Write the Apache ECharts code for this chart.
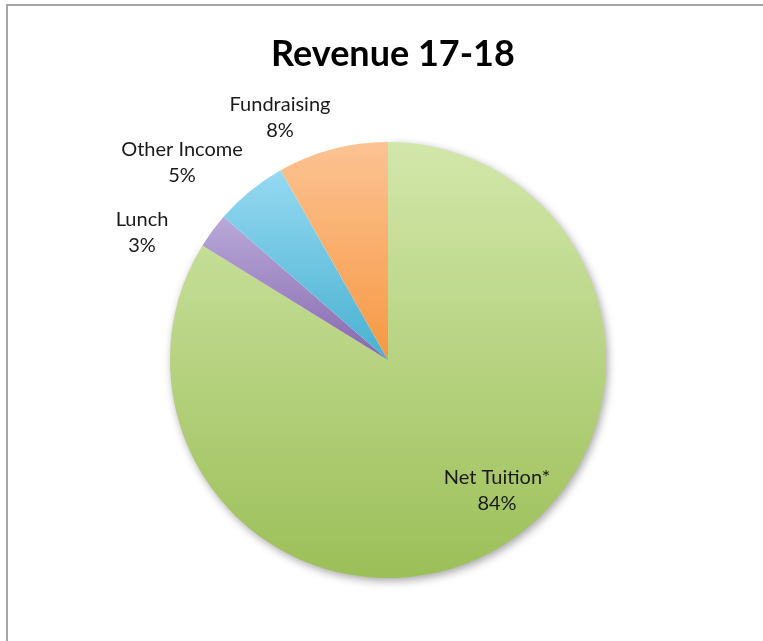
<!DOCTYPE html>
<html>
<head>
<meta charset="utf-8">
<script src="https://cdn.jsdelivr.net/npm/echarts@6/dist/echarts.min.js"></script>
<style>
html,body{margin:0;padding:0;background:#fff;}
#chart{width:763px;height:641px;}
</style>
</head>
<body>
<div id="chart"></div>
<script>
const titleText = 'Revenue 17-18';
const categories = ['Net Tuition*', 'Lunch', 'Other Income', 'Fundraising'];
const values = [83.8, 2.6, 5.4, 8.2];

const colorStops = [
  ['#d2e7aa', '#9cbf58'],
  ['#b9a9d9', '#8668ae'],
  ['#95d9f2', '#48b1d0'],
  ['#fcc393', '#f79842']
];

// label anchor centres (layout only)
const labelCentres = [[497, 491], [142, 233], [182, 163], [280, 118]];

const chart = echarts.init(document.getElementById('chart'));
const total = values.reduce((a, b) => a + b, 0);

chart.setOption({
  animation: false,
  backgroundColor: '#ffffff',
  title: {
    text: titleText,
    left: 266,
    top: 31,
    textStyle: { fontFamily: 'Lato', fontWeight: 'bold', fontSize: 36, color: '#000' }
  },
  graphic: [{
    type: 'rect',
    shape: { x: 7, y: 5, width: 800, height: 700 },
    style: { fill: 'none', stroke: '#a6a6a6', lineWidth: 2 },
    silent: true
  }],
  series: [{
    type: 'pie',
    center: [388, 360],
    radius: [0, 218],
    startAngle: 90,
    clockwise: true,
    avoidLabelOverlap: false,
    data: categories.map((name, i) => ({
      name: name,
      value: values[i],
      itemStyle: Object.assign({
        color: new echarts.graphic.LinearGradient(0, 0, 0, 1, [
          { offset: 0, color: colorStops[i][0] },
          { offset: 1, color: colorStops[i][1] }
        ])
      }, i === 0 ? { shadowBlur: 8, shadowColor: 'rgba(0,0,0,0.35)', shadowOffsetX: 2, shadowOffsetY: 3 } : {})
    })),
    itemStyle: { borderWidth: 0 },
    label: {
      show: true,
      position: 'outside',
      formatter: p => p.name + '\n' + Math.round(p.value / total * 100) + '%',
      fontFamily: 'Lato',
      fontSize: 20,
      lineHeight: 26,
      color: '#1a1a1a',
      align: 'center'
    },
    labelLine: { show: false },
    labelLayout: function (params) {
      const c = labelCentres[params.dataIndex];
      return { x: c[0], y: c[1], align: 'center', verticalAlign: 'middle' };
    }
  }]
});
</script>
</body>
</html>
